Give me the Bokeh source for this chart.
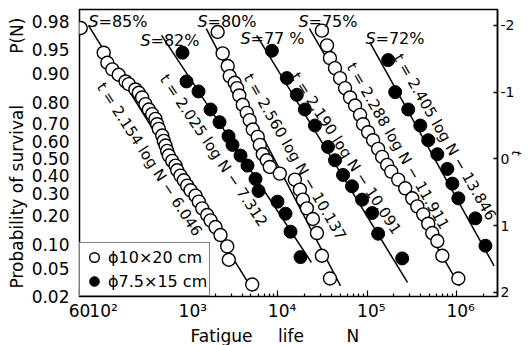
import math
from statistics import NormalDist
from bokeh.plotting import figure
from bokeh.models import Range1d, LinearAxis, FixedTicker, Label, Legend, LegendItem, Title
from bokeh.embed import file_html
from bokeh.resources import INLINE

# ---------------- data ----------------
p_survival_ticks = [0.98, 0.95, 0.90, 0.80, 0.70, 0.60, 0.50, 0.40, 0.30, 0.20, 0.10, 0.05, 0.02]
p_survival_labels = ["0.98", "0.95", "0.90", "0.80", "0.70", "0.60", "0.50",
                     "0.40", "0.30", "0.20", "0.10", "0.05", "0.02"]
t_ticks = [-2, -1, 0, 1, 2]
t_tick_labels = ["-2", "-1", "0", "1", "2"]
n_ticks = [60, 100, 1000, 10000, 100000, 1000000]
n_tick_labels = ["60", "\u200210²", "\u200210³", "\u200210⁴", "\u200210⁵", "\u200210⁶"]
n_min = 60
n_max = 2.89e6

stress_values = ["85%", "82%", "80%", "77 %", "75%", "72%"]
slope_a = [2.154, 2.025, 2.560, 2.190, 2.288, 2.405]
intercept_b = [6.046, 7.312, 10.137, 10.091, 11.911, 13.846]
line_t_start = [-2.0, -1.85, -1.95, -1.85, -1.95, -1.75]
line_t_end = [1.85, 1.55, 1.90, 1.85, 1.90, 1.60]
specimen = ["open", "filled", "open", "filled", "open", "filled"]
specimen_labels = {"open": "ϕ10×20 cm", "filled": "ϕ7.5×15 cm"}

s85_N = [62, 112, 123, 140, 165, 197, 214, 254, 277, 302, 329, 359, 391, 426, 445, 464, 507,
         528, 552, 576, 601, 656, 714, 746, 812, 885, 966, 1052, 1196, 1302, 1422, 1618, 1762,
         2004, 2279, 2710, 2824, 5163]
s85_t = [-1.96, -1.59, -1.44, -1.34, -1.26, -1.16, -1.12, -1.04, -0.99, -0.92, -0.82, -0.74,
         -0.67, -0.60, -0.52, -0.45, -0.35, -0.27, -0.20, -0.12, -0.05, 0.03, 0.10, 0.17, 0.25,
         0.32, 0.40, 0.47, 0.55, 0.64, 0.74, 0.84, 0.92, 1.02, 1.14, 1.31, 1.51, 1.88]

s82_N = [855, 948, 1292, 1762, 2222, 2802, 3106, 3818, 4573, 5622, 6075, 9918, 12190, 13870, 17950]
s82_t = [-1.59, -1.16, -1.01, -0.74, -0.55, -0.34, -0.21, -0.05, 0.10, 0.30, 0.48, 0.64, 0.82,
         1.09, 1.47]

s80_N = [2118, 2410, 2744, 2889, 3289, 3500, 3700, 4049, 4487, 4845, 5236, 5957, 6281,
         6779, 7516, 8124, 10520, 15520, 17660, 19090, 21170, 24720, 27420, 31190, 38370]
s80_t = [-1.90, -1.58, -1.39, -1.24, -1.14, -1.06, -0.95, -0.81, -0.69, -0.58, -0.44, -0.33,
         -0.21, -0.07, 0.02, 0.12, 0.22, 0.31, 0.46, 0.61, 0.74, 0.90, 1.11, 1.45, 1.79]

s77_N = [8570, 12620, 16330, 20090, 26040, 36480, 43690, 53740, 67770, 87840, 113800, 133000, 247200]
s77_t = [-1.62, -1.21, -0.96, -0.74, -0.50, -0.18, 0.02, 0.24, 0.41, 0.61, 0.81, 1.12, 1.49]

s75_N = [31190, 35560, 38370, 43690, 49770, 56620, 64420, 73310, 83410, 90130, 102600,
         116700, 133000, 147500, 167900, 186200, 223000, 267300, 320600, 364800, 425600,
         484200, 537000, 612100, 696600, 1052000]
s75_t = [-1.92, -1.70, -1.51, -1.36, -1.21, -1.06, -0.92, -0.80, -0.66, -0.52, -0.40, -0.28,
         -0.15, -0.03, 0.09, 0.19, 0.31, 0.44, 0.59, 0.71, 0.83, 0.97, 1.11, 1.23, 1.45, 1.79]

s72_N = [172200, 206400, 289000, 394300, 484200, 612100, 792900, 902300, 1052000, 1633000, 2117000]
s72_t = [-1.48, -1.00, -0.74, -0.50, -0.28, -0.07, 0.15, 0.37, 0.59, 0.89, 1.30]

series_N = [s85_N, s82_N, s80_N, s77_N, s75_N, s72_N]
series_t = [s85_t, s82_t, s80_t, s77_t, s75_t, s72_t]

# ---------------- layout helpers (canvas pixels -> data) ----------------
FL, FR, FT, FB = 79, 497, 9, 298
T_TOP, T_BOT = -2.237, 2.06
LX0, LX1 = math.log10(n_min), math.log10(n_max)


def X(px):
    return 10 ** (LX0 + (px - FL) / (FR - FL) * (LX1 - LX0))


def Y(py):
    return T_TOP + (py - FT) / (FB - FT) * (T_BOT - T_TOP)


FONT = "DejaVu Sans"
INK = "black"
W, H = 529, 345

p = figure(width=W, height=H, x_axis_type="log",
           x_range=Range1d(n_min, n_max), y_range=Range1d(T_BOT, T_TOP),
           output_backend="svg", toolbar_location=None,
           min_border_left=FL, min_border_right=W - FR,
           min_border_top=FT, min_border_bottom=H - FB)
p.xgrid.visible = False
p.ygrid.visible = False
p.outline_line_color = INK
p.outline_line_width = 1.5
p.background_fill_color = "white"
p.border_fill_color = "white"

# left axis: survival probability at normal quantiles
nd = NormalDist()
t_of_p = [round(nd.inv_cdf(1 - pv), 6) for pv in p_survival_ticks]
ya = p.yaxis[0]
ya.ticker = FixedTicker(ticks=t_of_p, minor_ticks=[])
ya.major_label_overrides = {tv: lab for tv, lab in zip(t_of_p, p_survival_labels)}
ya.axis_line_color = None
ya.major_tick_out = 0
ya.major_tick_in = 0
ya.minor_tick_out = 0
ya.major_label_standoff = 10
ya.major_label_text_font = FONT
ya.major_label_text_font_size = "17px"
ya.major_label_text_color = INK
ya.axis_label = "Probability of survival\u2003\u2003\u2003P(N)"
ya.axis_label_standoff = 2
ya.axis_label_text_font = FONT
ya.axis_label_text_font_size = "17px"
ya.axis_label_text_font_style = "normal"
ya.axis_label_text_color = INK

# bottom axis
minor = [m * 10 ** k for k in range(1, 7) for m in range(2, 10) if n_min < m * 10 ** k <= n_max]
xa = p.xaxis[0]
xa.ticker = FixedTicker(ticks=n_ticks, minor_ticks=minor)
xa.major_label_overrides = {tv: lab for tv, lab in zip(n_ticks, n_tick_labels)}
xa.axis_line_color = None
xa.major_tick_out = 0
xa.major_tick_in = 6
xa.minor_tick_out = 0
xa.minor_tick_in = 3
xa.major_tick_line_color = INK
xa.minor_tick_line_color = INK
xa.major_tick_line_width = 1.2
xa.minor_tick_line_width = 1.2
xa.major_label_standoff = 4
xa.major_label_text_font = FONT
xa.major_label_text_font_size = "17px"
xa.major_label_text_color = INK

p.add_layout(Title(text="Fatigue\u2003\u2002life\u2003\u2003\u2002N", align="left", offset=111,
                   standoff=0, text_font=FONT, text_font_size="17px",
                   text_font_style="normal", text_color=INK), "below")

# right axis: t
ra = LinearAxis(ticker=FixedTicker(ticks=t_ticks, minor_ticks=[]))
ra.major_label_overrides = {tv: lab for tv, lab in zip(t_ticks, t_tick_labels)}
ra.axis_line_color = INK
ra.axis_line_width = 1.5
ra.major_tick_out = 0
ra.major_tick_in = 4
ra.major_tick_line_color = INK
ra.major_tick_line_width = 1.5
ra.minor_tick_out = 0
ra.major_label_standoff = 3
ra.major_label_text_font = FONT
ra.major_label_text_font_size = "14px"
ra.major_label_text_color = INK
ra.axis_label = "t"
ra.axis_label_standoff = -8
ra.axis_label_text_font = FONT
ra.axis_label_text_font_size = "13px"
ra.axis_label_text_font_style = "italic"
ra.axis_label_text_color = INK
p.add_layout(ra, "right")

# fitted lines
for a, b, t0, t1 in zip(slope_a, intercept_b, line_t_start, line_t_end):
    p.line([10 ** ((t0 + b) / a), 10 ** ((t1 + b) / a)], [t0, t1], line_color=INK, line_width=1.5)

# points
legend_r = {}
for kind, Ns, ts in zip(specimen, series_N, series_t):
    if kind == "open":
        r = p.scatter(Ns, ts, marker="circle", size=13, fill_color="white",
                      line_color=INK, line_width=1.4)
    else:
        r = p.scatter(Ns, ts, marker="circle", size=13, fill_color=INK,
                      line_color=INK, line_width=1.0)
    legend_r.setdefault(kind, r)

legend = Legend(items=[LegendItem(label=specimen_labels["open"], renderers=[legend_r["open"]]),
                       LegendItem(label=specimen_labels["filled"], renderers=[legend_r["filled"]])],
                location="bottom_left", margin=0, padding=2, spacing=0,
                glyph_width=24, glyph_height=24, label_height=20, label_standoff=2,
                border_line_color=INK, border_line_width=1.5,
                background_fill_color="white", background_fill_alpha=1.0,
                label_text_font=FONT, label_text_font_size="16px", label_text_color=INK)
p.add_layout(legend)

# stress labels
s_pos = [(88, 21), (140, 40), (197, 21), (240, 38), (298, 21), (365, 38)]
for sv, (px, py) in zip(stress_values, s_pos):
    p.add_layout(Label(x=X(px), y=Y(py), text="S", text_font=FONT, text_font_size="16px",
                       text_font_style="italic", text_color=INK,
                       text_baseline="middle", text_align="left"))
    p.add_layout(Label(x=X(px + 10), y=Y(py), text="=" + sv, text_font=FONT, text_font_size="16px",
                       text_color=INK, text_baseline="middle", text_align="left"))

# equation labels along lines
eq_pos = [(100, 84), (163, 76), (247, 75), (294, 74), (350, 64), (397, 55)]
eq_ang = [-57, -56, -60, -57, -60, -60]
for a, b, (px, py), ang in zip(slope_a, intercept_b, eq_pos, eq_ang):
    p.add_layout(Label(x=X(px), y=Y(py), text=f"t = {a:.3f} log N − {b:.3f}",
                       angle=ang, angle_units="deg", text_font=FONT, text_font_size="15px",
                       text_color=INK, text_baseline="middle", text_align="left"))

open("out.html", "w").write(file_html(p, INLINE))
